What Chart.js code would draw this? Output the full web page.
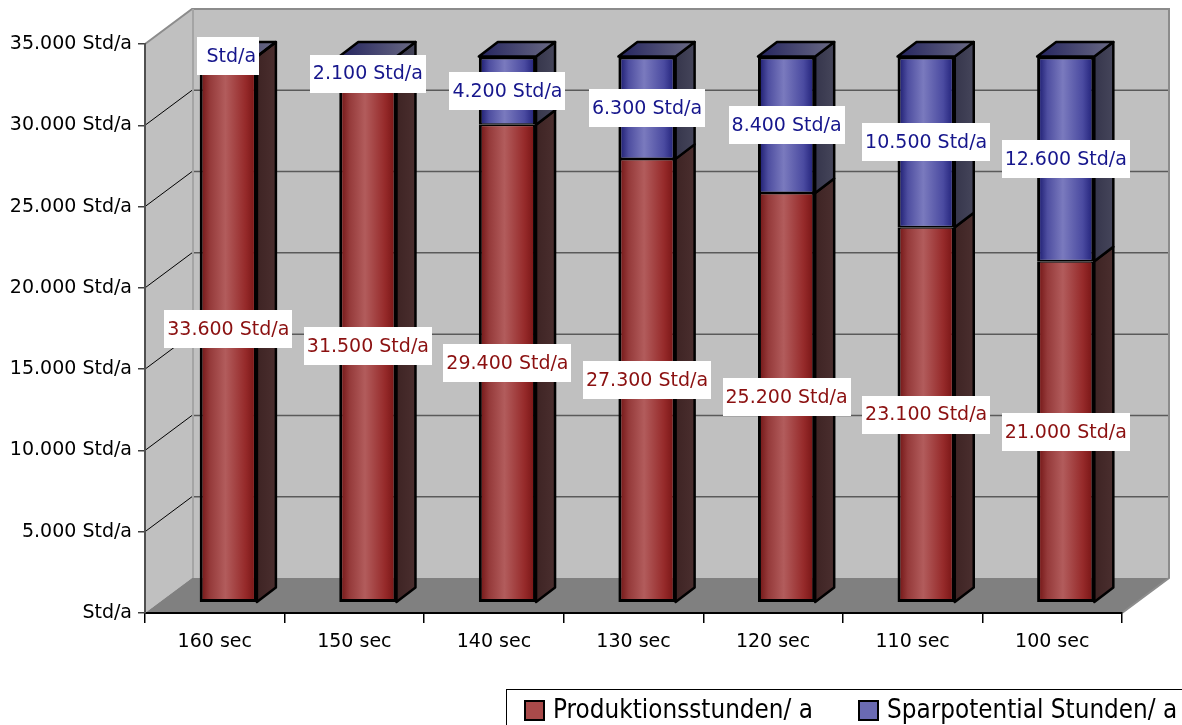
<!DOCTYPE html>
<html>
<head>
<meta charset="utf-8">
<script src="https://cdn.jsdelivr.net/npm/chart.js@4/dist/chart.umd.min.js"></script>
<style>
  html, body { margin: 0; padding: 0; background: #fff; }
  canvas { display: block; }
</style>
</head>
<body>
<canvas id="chart" width="1182" height="725"></canvas>
<script>
// Cycle times and the yearly hours per cycle time
const categories = ['160 sec', '150 sec', '140 sec', '130 sec', '120 sec', '110 sec', '100 sec'];
const productionHours = [33600, 31500, 29400, 27300, 25200, 23100, 21000];
const savingsHours = [0, 2100, 4200, 6300, 8400, 10500, 12600];
const seriesNames = ['Produktionsstunden/ a', 'Sparpotential Stunden/ a'];
const yMin = 0;
const yMax = 35000;
const yStep = 5000;

// 3D look: depth of the walls, offset of the bar plane, depth of one bar
const WALL_DX = 47, WALL_DY = -35;
const BAR_DX = 13.5, BAR_DY = -10.3;
const SIDE_DX = 19, SIDE_DY = -14.5;
const BAR_PCT = 0.41;

const FONT = { family: 'DejaVu Sans', size: 19 };

const redStops = [[0, '#6e1010'], [0.18, '#953a3a'], [0.45, '#b25c5c'], [0.8, '#962a2a'], [1, '#741212']];
const blueStops = [[0, '#15156a'], [0.18, '#4e4ea0'], [0.45, '#7a7abe'], [0.8, '#4a4aa0'], [1, '#1c1c74']];

function fmt(v) {
  if (v === 0) return ' Std/a';
  return String(v).replace(/\B(?=(\d{3})+(?!\d))/g, '.') + ' Std/a';
}

function frontGradient(c, stops) {
  const chart = c.chart;
  const xs = chart.scales.x;
  if (!xs || c.dataIndex === undefined || !isFinite(xs.width)) return stops[2][1];
  const cx = xs.getPixelForValue(c.dataIndex);
  const w = xs.width / categories.length * BAR_PCT;
  const g = chart.ctx.createLinearGradient(cx - w / 2, 0, cx + w / 2, 0);
  stops.forEach(s => g.addColorStop(s[0], s[1]));
  return g;
}

// Walls, floor and grid of the 3D box, painted before the scales
const boxPlugin = {
  id: 'box3d',
  beforeDraw(chart) {
    const ctx = chart.ctx;
    const a = chart.chartArea;
    const ys = chart.scales.y;
    ctx.save();
    ctx.fillStyle = '#fff';
    ctx.fillRect(0, 0, chart.width, chart.height);

    const bl = a.left + WALL_DX, bt = a.top + WALL_DY;
    const br = a.right + WALL_DX, bb = a.bottom + WALL_DY;

    // back wall
    ctx.fillStyle = '#c0c0c0';
    ctx.fillRect(bl, bt, br - bl, bb - bt);
    // left wall
    ctx.beginPath();
    ctx.moveTo(a.left, a.top);
    ctx.lineTo(bl, bt);
    ctx.lineTo(bl, bb);
    ctx.lineTo(a.left, a.bottom);
    ctx.closePath();
    ctx.fill();
    // floor
    ctx.fillStyle = '#808080';
    ctx.beginPath();
    ctx.moveTo(a.left, a.bottom);
    ctx.lineTo(a.right, a.bottom);
    ctx.lineTo(br, bb);
    ctx.lineTo(bl, bb);
    ctx.closePath();
    ctx.fill();

    // grid lines on back wall and left wall
    for (let v = yMin + yStep; v < yMax; v += yStep) {
      const yf = ys.getPixelForValue(v);
      ctx.strokeStyle = '#5a5a5a';
      ctx.lineWidth = 1.5;
      ctx.beginPath();
      ctx.moveTo(bl, yf + WALL_DY);
      ctx.lineTo(br, yf + WALL_DY);
      ctx.stroke();
      ctx.strokeStyle = '#000';
      ctx.lineWidth = 1;
      ctx.beginPath();
      ctx.moveTo(a.left, yf);
      ctx.lineTo(bl, yf + WALL_DY);
      ctx.stroke();
    }

    // wall edges
    ctx.lineWidth = 2;
    ctx.strokeStyle = '#8c8c8c';
    ctx.beginPath();
    ctx.moveTo(a.left, a.top);
    ctx.lineTo(bl, bt);
    ctx.lineTo(br, bt);
    ctx.lineTo(br, bb);
    ctx.lineTo(a.right, a.bottom);
    ctx.stroke();
    ctx.strokeStyle = '#a4a4a4';
    ctx.beginPath();
    ctx.moveTo(bl + 1, bt);
    ctx.lineTo(bl + 1, bb);
    ctx.stroke();
    ctx.restore();
  },
  beforeDatasetsDraw(chart) {
    chart.ctx.save();
    chart.ctx.translate(BAR_DX, BAR_DY);
  },
  afterDatasetsDraw(chart) {
    const ctx = chart.ctx;
    const nSets = chart.data.datasets.length;
    for (let i = 0; i < nSets; i++) {
      const meta = chart.getDatasetMeta(i);
      meta.data.forEach((bar, j) => {
        const half = bar.width / 2;
        const left = bar.x - half, right = bar.x + half;
        const top = Math.min(bar.y, bar.base), bottom = Math.max(bar.y, bar.base);
        ctx.lineWidth = 2.5;
        ctx.strokeStyle = '#000';
        ctx.lineJoin = 'round';
        // side face
        if (bottom - top > 0.5) {
          const g = ctx.createLinearGradient(right, 0, right + SIDE_DX, 0);
          if (i === 0) { g.addColorStop(0, '#3e2424'); g.addColorStop(1, '#4a2e2e'); }
          else { g.addColorStop(0, '#36364c'); g.addColorStop(1, '#45455a'); }
          ctx.fillStyle = g;
          ctx.beginPath();
          ctx.moveTo(right, top);
          ctx.lineTo(right + SIDE_DX, top + SIDE_DY);
          ctx.lineTo(right + SIDE_DX, bottom + SIDE_DY);
          ctx.lineTo(right, bottom);
          ctx.closePath();
          ctx.fill();
          ctx.stroke();
        }
        // top face on the top segment of the stack
        if (i === nSets - 1) {
          const g = ctx.createLinearGradient(left, 0, right + SIDE_DX, 0);
          g.addColorStop(0, '#24245e');
          g.addColorStop(1, '#6a6a84');
          ctx.fillStyle = g;
          ctx.beginPath();
          ctx.moveTo(left, top);
          ctx.lineTo(left + SIDE_DX, top + SIDE_DY);
          ctx.lineTo(right + SIDE_DX, top + SIDE_DY);
          ctx.lineTo(right, top);
          ctx.closePath();
          ctx.fill();
          ctx.stroke();
          if (bottom - top <= 0.5) {
            ctx.beginPath();
            ctx.moveTo(right, top);
            ctx.lineTo(right + SIDE_DX, top + SIDE_DY);
            ctx.stroke();
          }
        }
      });
    }
    ctx.restore();
  },
  afterDraw(chart) {
    const ctx = chart.ctx;
    ctx.save();
    // value labels in white boxes
    ctx.font = FONT.size + 'px ' + FONT.family;
    ctx.textAlign = 'center';
    ctx.textBaseline = 'middle';
    const labelColors = ['#8b1010', '#16168c'];
    chart.data.datasets.forEach((ds, i) => {
      chart.getDatasetMeta(i).data.forEach((bar, j) => {
        const txt = fmt(ds.data[j]);
        const cx = bar.x + BAR_DX;
        const cy = (bar.y + bar.base) / 2 + BAR_DY;
        const w = ctx.measureText(txt).width + 6;
        const h = 38;
        ctx.fillStyle = '#fff';
        ctx.fillRect(Math.round(cx - w / 2), Math.round(cy - h / 2), Math.round(w), h);
        ctx.fillStyle = labelColors[i];
        ctx.fillText(txt, cx, cy + 1);
      });
    });

    // legend box
    const lx = 506, ly = 689;
    ctx.fillStyle = '#fff';
    ctx.fillRect(lx, ly, chart.width - lx + 10, chart.height - ly + 10);
    ctx.strokeStyle = '#000';
    ctx.lineWidth = 1;
    ctx.strokeRect(lx + 0.5, ly + 0.5, chart.width - lx + 10, chart.height - ly + 10);
    const swatch = ['#a84a4a', '#6a6ab2'];
    const itemX = [525, 859];
    ctx.font = '27px ' + FONT.family;
    ctx.textAlign = 'left';
    ctx.textBaseline = 'alphabetic';
    const sx = 260 / ctx.measureText(seriesNames[0]).width;
    seriesNames.forEach((name, i) => {
      ctx.fillStyle = swatch[i];
      ctx.fillRect(itemX[i], 701, 19, 19);
      ctx.lineWidth = 2;
      ctx.strokeStyle = '#000';
      ctx.strokeRect(itemX[i], 701, 19, 19);
      ctx.save();
      ctx.translate(itemX[i] + 28, 718);
      ctx.scale(sx, 1);
      ctx.fillStyle = '#000';
      ctx.fillText(name, 0, 0);
      ctx.restore();
    });
    ctx.restore();
  }
};

new Chart(document.getElementById('chart'), {
  type: 'bar',
  data: {
    labels: categories,
    datasets: [
      {
        label: seriesNames[0],
        data: productionHours,
        backgroundColor: c => frontGradient(c, redStops),
        borderColor: '#000',
        borderWidth: { top: 1.5, left: 3, right: 3, bottom: 3 },
        borderSkipped: false
      },
      {
        label: seriesNames[1],
        data: savingsHours,
        backgroundColor: c => frontGradient(c, blueStops),
        borderColor: '#000',
        borderWidth: { top: 3, left: 3, right: 3, bottom: 1.5 },
        borderSkipped: false
      }
    ]
  },
  options: {
    responsive: false,
    devicePixelRatio: 1,
    animation: false,
    barPercentage: BAR_PCT,
    categoryPercentage: 1,
    layout: { padding: { top: 44, right: 60, left: 0, bottom: 0 } },
    plugins: {
      legend: { display: false },
      tooltip: { enabled: false }
    },
    scales: {
      x: {
        stacked: true,
        grid: { drawOnChartArea: false, tickLength: 10, color: '#000', lineWidth: 1.5, offset: true },
        border: { color: '#000', width: 2 },
        ticks: { font: FONT, color: '#000', padding: 8, maxRotation: 0 },
        afterFit: s => { s.height = 112; }
      },
      y: {
        stacked: true,
        min: yMin,
        max: yMax,
        ticks: { stepSize: yStep, font: FONT, color: '#000', padding: 6, callback: v => fmt(v) },
        grid: { drawOnChartArea: false, tickLength: 7, color: '#404040', lineWidth: 1.5 },
        border: { color: '#505050', width: 2 },
        afterFit: s => { s.width = 145; }
      }
    }
  },
  plugins: [boxPlugin]
});
</script>
</body>
</html>
